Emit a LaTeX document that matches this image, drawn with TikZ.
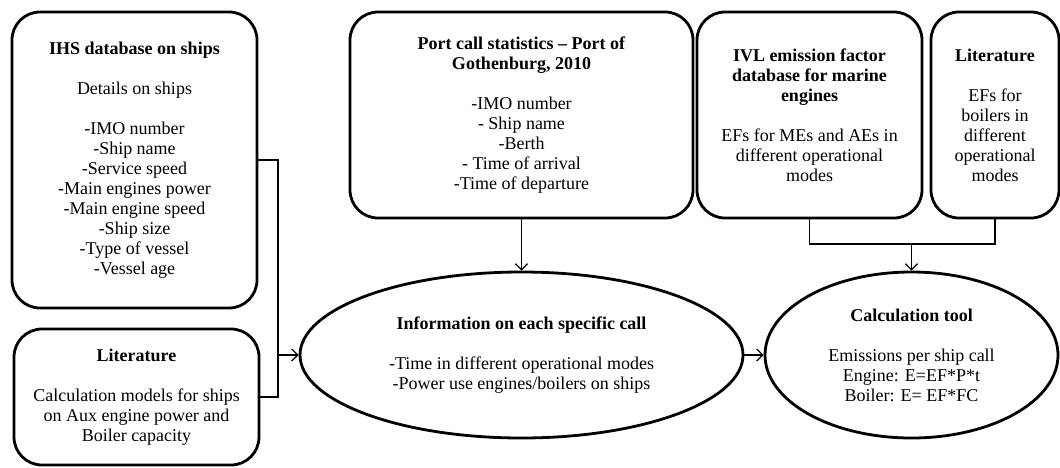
\documentclass[tikz,border=0pt]{standalone}
\usepackage{fontspec}
\setmainfont{Liberation Serif}
\usetikzlibrary{shapes.geometric,arrows.meta}

\begin{document}
\begin{tikzpicture}[x=0.5pt,y=-0.5pt,
   src/.style={draw,line width=1.4pt,rounded corners=14pt,align=center,inner sep=0pt,font=\fontsize{9}{10}\selectfont},
   res/.style={draw,ellipse,line width=1.4pt,align=center,inner sep=0pt,font=\fontsize{9}{10}\selectfont},
   link/.style={line width=0.65pt,-{Straight Barb[length=3pt,width=6pt]}},
   line/.style={line width=0.65pt}]
   \useasboundingbox (0,0) rectangle (1060,467);
   \node[src,minimum width=122.5pt,minimum height=148pt] (ihs) at (134.5,160) {\textbf{IHS database on ships}\\[10pt] Details on ships\\[10pt] -IMO number\\ -Ship name\\ -Service speed\\ -Main engines power\\ -Main engine speed\\ -Ship size\\ -Type of vessel\\ -Vessel age};
   \node[src,minimum width=122.5pt,minimum height=68pt] (litA) at (136.5,397) {\textbf{Literature}\\[10pt] Calculation models for ships\\ on Aux engine power and\\ Boiler capacity};
   \node[src,minimum width=171.5pt,minimum height=103pt] (port) at (521.5,115) {\textbf{Port call statistics -- Port of}\\ \textbf{Gothenburg, 2010}\\[10pt] -IMO number\\ - Ship name\\ -Berth\\ - Time of arrival\\ -Time of departure};
   \node[src,minimum width=112.5pt,minimum height=103pt] (ivl) at (809.5,115) {\textbf{IVL emission factor}\\ \textbf{database for marine}\\ \textbf{engines}\\[10pt] EFs for MEs and AEs in\\ different operational\\ modes};
   \node[src,minimum width=64pt,minimum height=103pt] (litB) at (995,115) {\textbf{Literature}\\[10pt] EFs for\\ boilers in\\ different\\ operational\\ modes};
   \node[res,minimum width=221.5pt,minimum height=83pt] (info) at (521.5,355) {\textbf{Information on each specific call}\\[10pt] -Time in different operational modes\\ -Power use engines/boilers on ships};
   \node[res,minimum width=146.5pt,minimum height=83pt] (calc) at (911.5,355) {\textbf{Calculation tool}\\[10pt] Emissions per ship call\\ Engine: E=EF*P*t\\ Boiler: E= EF*FC};
   \coordinate (jn) at (278,355);
   \coordinate (mg) at (911.5,244);
   \draw[line] (ihs.east) -| (jn);
   \draw[line] (litA.east) -| (jn);
   \draw[link] (jn) -- (info.west);
   \draw[link] (port.south) -- (info.north);
   \draw[line] (ivl.south) |- (mg) -| (litB.south);
   \draw[link] (mg) -- (calc.north);
   \draw[link] (info.east) -- (calc.west);
\end{tikzpicture}
\end{document}
